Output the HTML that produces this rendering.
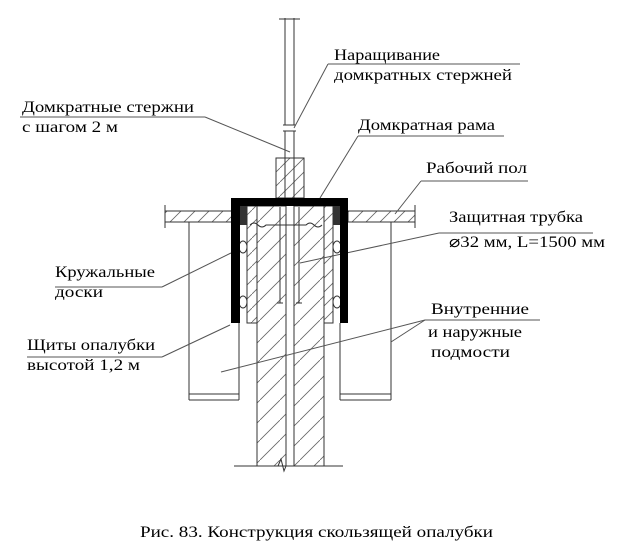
<!DOCTYPE html>
<html><head><meta charset="utf-8"><style>
html,body{margin:0;padding:0;background:#fff;}
svg{display:block;}
text{font-family:"Liberation Serif","Times New Roman",serif;font-size:16px;fill:#000;}
</style></head><body>
<svg width="620" height="549" viewBox="0 0 620 549" xmlns="http://www.w3.org/2000/svg" font-family="Liberation Serif, serif">
<defs>
<pattern id="h" patternUnits="userSpaceOnUse" width="14" height="14">
<path d="M0 14 L14 0" stroke="#666" stroke-width="0.8"/>
</pattern>
<pattern id="h2" patternUnits="userSpaceOnUse" width="20" height="20">
<path d="M0 20 L20 0" stroke="#666" stroke-width="0.8"/>
</pattern>
</defs>
<g stroke="#333" stroke-width="1" fill="none">
<line x1="285" y1="18" x2="285" y2="125"/>
<line x1="294" y1="18" x2="294" y2="125"/>
<line x1="285" y1="131" x2="285" y2="158"/>
<line x1="294" y1="131" x2="294" y2="158"/>
<line x1="279" y1="19" x2="300" y2="19"/>
<line x1="283" y1="125" x2="296" y2="125"/>
<line x1="283" y1="131" x2="296" y2="131"/>
<rect x="276" y="158" width="28" height="40" fill="url(#h)"/>
<line x1="285" y1="158" x2="285" y2="198"/><line x1="294" y1="158" x2="294" y2="198"/>
<rect x="165" y="211" width="67" height="11" fill="url(#h)"/>
<rect x="348" y="211" width="67" height="11" fill="url(#h)"/>
<line x1="165" y1="205" x2="165" y2="228"/>
<line x1="415" y1="205" x2="415" y2="228"/>
<line x1="189" y1="222" x2="189" y2="400"/>
<line x1="239" y1="323" x2="239" y2="400"/>
<line x1="189" y1="394" x2="239" y2="394"/>
<line x1="189" y1="400" x2="239" y2="400"/>
<line x1="391" y1="222" x2="391" y2="400"/>
<line x1="340" y1="323" x2="340" y2="400"/>
<line x1="340" y1="394" x2="391" y2="394"/>
<line x1="340" y1="400" x2="391" y2="400"/>
<rect x="257" y="206" width="29" height="260" fill="url(#h2)"/>
<rect x="294" y="206" width="30" height="260" fill="url(#h2)"/>
<rect x="247" y="206" width="10" height="117" fill="url(#h)"/>
<rect x="324" y="206" width="9" height="117" fill="url(#h)"/>
<line x1="280" y1="207" x2="280" y2="303"/>
<line x1="277" y1="303" x2="283" y2="303"/>
<line x1="299" y1="207" x2="299" y2="303"/>
<line x1="296" y1="303" x2="302" y2="303"/>
<path d="M250 225 q4 -4 8 0 q4 4 8 0 l40 0 q4 -4 8 0 q4 4 8 0"/>
<ellipse cx="243" cy="247" rx="4" ry="6"/>
<ellipse cx="243" cy="302" rx="4" ry="6"/>
<ellipse cx="337" cy="247" rx="4" ry="6"/>
<ellipse cx="337" cy="302" rx="4" ry="6"/>
<line x1="234" y1="466" x2="343" y2="466"/>
<path d="M278 466 l3 -7 l3 12 l2 -5"/>
<g stroke="#555">
<line x1="328" y1="64" x2="520" y2="64"/><line x1="328" y1="64" x2="294" y2="128"/>
<line x1="20" y1="117" x2="205" y2="117"/><line x1="205" y1="117" x2="290" y2="152"/>
<line x1="358" y1="136" x2="504" y2="136"/><line x1="358" y1="136" x2="320" y2="198"/>
<line x1="421" y1="181" x2="528" y2="181"/><line x1="421" y1="181" x2="395" y2="214"/>
<line x1="439" y1="233" x2="593" y2="233"/><line x1="439" y1="233" x2="300" y2="263"/>
<line x1="55" y1="287" x2="162" y2="287"/><line x1="162" y1="287" x2="231" y2="253"/>
<line x1="27" y1="357" x2="162" y2="357"/><line x1="162" y1="357" x2="230" y2="325"/>
<line x1="425" y1="320" x2="540" y2="320"/><line x1="425" y1="320" x2="221" y2="372"/><line x1="425" y1="320" x2="391" y2="342"/>
</g>
</g>
<rect x="231" y="198" width="117" height="8" fill="#000"/>
<rect x="231" y="198" width="9" height="125" fill="#000"/>
<rect x="340" y="198" width="8" height="125" fill="#000"/>
<rect x="240" y="206" width="7" height="19" fill="#333"/>
<rect x="333" y="206" width="7" height="19" fill="#333"/>
<text x="334" y="60" textLength="106" lengthAdjust="spacingAndGlyphs">Наращивание</text>
<text x="334" y="80" textLength="178" lengthAdjust="spacingAndGlyphs">домкратных стержней</text>
<text x="22" y="112" textLength="172" lengthAdjust="spacingAndGlyphs">Домкратные стержни</text>
<text x="22" y="132" textLength="96" lengthAdjust="spacingAndGlyphs">с шагом 2 м</text>
<text x="358" y="130" textLength="137" lengthAdjust="spacingAndGlyphs">Домкратная рама</text>
<text x="426" y="173" textLength="101" lengthAdjust="spacingAndGlyphs">Рабочий пол</text>
<text x="449" y="222" textLength="134" lengthAdjust="spacingAndGlyphs">Защитная трубка</text>
<text x="449" y="247" textLength="156" lengthAdjust="spacingAndGlyphs">⌀32 мм, L=1500 мм</text>
<text x="55" y="277" textLength="100" lengthAdjust="spacingAndGlyphs">Кружальные</text>
<text x="55" y="297" textLength="48" lengthAdjust="spacingAndGlyphs">доски</text>
<text x="27" y="350" textLength="128" lengthAdjust="spacingAndGlyphs">Щиты опалубки</text>
<text x="27" y="370" textLength="113" lengthAdjust="spacingAndGlyphs">высотой 1,2 м</text>
<text x="431" y="314" textLength="98" lengthAdjust="spacingAndGlyphs">Внутренние</text>
<text x="428" y="337" textLength="94" lengthAdjust="spacingAndGlyphs">и наружные</text>
<text x="431" y="357" textLength="79" lengthAdjust="spacingAndGlyphs">подмости</text>
<text x="140" y="537" textLength="353" lengthAdjust="spacingAndGlyphs">Рис. 83. Конструкция скользящей опалубки</text>
</svg>
</body></html>
